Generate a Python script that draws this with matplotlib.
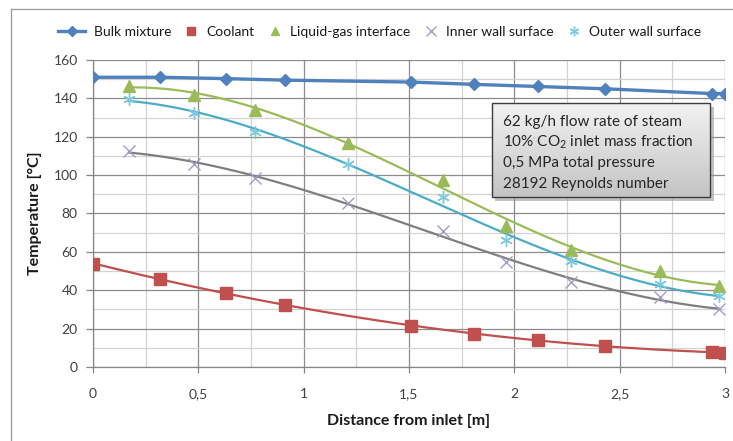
import numpy as np
import matplotlib
matplotlib.use("Agg")
import matplotlib.pyplot as plt
from matplotlib.lines import Line2D
from matplotlib.patches import Rectangle
from matplotlib.ticker import MultipleLocator, FuncFormatter
from matplotlib.legend_handler import HandlerLine2D

plt.rcParams['font.family'] = ['Lato', 'DejaVu Sans']
plt.rcParams['mathtext.fontset'] = 'custom'
plt.rcParams['mathtext.rm'] = 'Lato'
plt.rcParams['mathtext.it'] = 'Lato:italic'

# ---- data ----
x_bulk = [0.0, 0.32, 0.63, 0.91, 1.51, 1.81, 2.11, 2.43, 2.94, 3.0]
bulk = [151, 151, 150.3, 149.5, 148.5, 147.3, 146.2, 145, 142.5, 142.5]
coolant = [53.7, 46, 38.6, 32.5, 21.5, 17, 14, 11, 7.7, 7.5]

x_wall = [0.17, 0.48, 0.77, 1.21, 1.66, 1.96, 2.27, 2.69, 2.97]
interface = [146.5, 142, 134, 117, 97.5, 73.5, 61, 50, 42]
inner = [112.5, 106, 98.5, 85.5, 71, 54.5, 44.5, 36.5, 30]
outer = [139.5, 132.5, 122.5, 106, 88.5, 66, 55, 43, 37]

legend_labels = ["Bulk mixture", "Coolant", "Liquid-gas interface",
                 "Inner wall surface", "Outer wall surface"]
info_lines = ["62 kg/h flow rate of steam",
              "10% CO$_2$ inlet mass fraction",
              "0,5 MPa total pressure",
              "28192 Reynolds number"]
xlabel = "Distance from inlet [m]"
ylabel = "Temperature [°C]"

c_blue = '#4f81bd'
c_red = '#c0504d'
c_green = '#9bbb59'
c_gray = '#7f7f7f'
c_lav = '#a39cc6'
c_cyan = '#4bacc6'
c_cyan_m = '#7cc8dc'

fig = plt.figure(figsize=(7.33, 4.41), dpi=100)
ax = fig.add_axes([93/733, 1-367/441, 632/733, 307/441])

# trendlines (polynomial fits of the measured points)
def trend(xs, ys, deg, ls_color, lw=1.6):
    p = np.polyfit(xs, ys, deg)
    xx = np.linspace(min(xs), max(xs), 200)
    ax.plot(xx, np.polyval(p, xx), color=ls_color, lw=lw, zorder=3)

trend(x_bulk, coolant, 2, c_red)
trend(x_wall, interface, 3, c_green)
trend(x_wall, inner, 3, c_gray)
trend(x_wall, outer, 3, c_cyan)

ax.plot(x_bulk, bulk, color=c_blue, lw=2.4, marker='D', ms=6, zorder=5)
ax.plot(x_bulk, coolant, ls='none', marker='s', ms=8, color=c_red, zorder=5)
ax.plot(x_wall, interface, ls='none', marker='^', ms=8, color=c_green, zorder=5)
ax.plot(x_wall, inner, ls='none', marker='x', ms=8, mew=1.0, color=c_lav, zorder=5)
ax.plot(x_wall, outer, ls='none', marker=(6, 2, 0), ms=9, mew=1.0, color=c_cyan_m, zorder=5)

ax.set_xlim(0, 3)
ax.set_ylim(0, 160)
ax.xaxis.set_major_locator(MultipleLocator(0.5))
ax.xaxis.set_minor_locator(MultipleLocator(0.25))
ax.yaxis.set_major_locator(MultipleLocator(20))
ax.yaxis.set_minor_locator(MultipleLocator(10))
ax.xaxis.set_major_formatter(FuncFormatter(lambda v, p: ('%g' % v).replace('.', ',')))
ax.grid(which='major', color='#8c8c8c', lw=0.9, zorder=0)
ax.grid(which='minor', color='#d2d2d2', lw=0.9, zorder=0)
ax.set_axisbelow(True)
for s in ['top', 'right']:
    ax.spines[s].set_visible(False)
for s in ['left', 'bottom']:
    ax.spines[s].set_color('#868686')
    ax.spines[s].set_linewidth(0.9)
ax.tick_params(which='major', axis='y', length=5, width=0.9, color='#868686',
               labelsize=10, labelcolor='#404040', pad=6)
ax.tick_params(which='major', axis='x', length=4, width=0.9, color='#868686',
               labelsize=10, labelcolor='#404040', pad=11)
ax.tick_params(which='minor', length=0)

ax.set_xlabel(xlabel, fontsize=11.5, fontweight='bold', labelpad=10, color='#1a1a1a')
ax.set_ylabel(ylabel, fontsize=11.5, fontweight='bold', labelpad=8, color='#1a1a1a')

# info box with gradient
bx0, bx1, by0, by1 = 0.631, 0.977, 0.554, 0.860
shadow = Rectangle((bx0 + 0.005, by0 - 0.012), bx1 - bx0, by1 - by0,
                   transform=ax.transAxes, facecolor='#9a9a9a', edgecolor='none',
                   alpha=0.6, zorder=6)
ax.add_patch(shadow)
grad = np.linspace(0, 1, 100).reshape(-1, 1)
ax.imshow(grad, extent=(bx0, bx1, by0, by1), transform=ax.transAxes,
          cmap=matplotlib.colors.LinearSegmentedColormap.from_list('g', ['#f2f2f2', '#c4c4c4']),
          aspect='auto', zorder=7, origin='upper')
ax.add_patch(Rectangle((bx0, by0), bx1 - bx0, by1 - by0, transform=ax.transAxes,
                       facecolor='none', edgecolor='#3c3c3c', lw=1.0, zorder=8))
for i, t in enumerate(info_lines):
    ax.text(0.649, 0.798 - i * 0.0668, t, transform=ax.transAxes, fontsize=11,
            color='#262626', va='center', ha='left', zorder=9)
ax.set_xlim(0, 3)
ax.set_ylim(0, 160)


class LongLine(HandlerLine2D):
    def create_artists(self, legend, orig_handle, xdescent, ydescent, width,
                       height, fontsize, trans):
        return super().create_artists(legend, orig_handle, xdescent + width,
                                      ydescent, width * 2, height, fontsize, trans)


# legend
h_bulk = Line2D([], [], color=c_blue, lw=2.4, marker='D', ms=5)
handles = [
    h_bulk,
    Line2D([], [], ls='none', marker='s', ms=6, color=c_red),
    Line2D([], [], ls='none', marker='^', ms=6, color=c_green),
    Line2D([], [], ls='none', marker='x', ms=7, mew=1.0, color=c_lav),
    Line2D([], [], ls='none', marker=(6, 2, 0), ms=7, mew=1.0, color=c_cyan_m),
]
fig.legend(handles, legend_labels, loc='center', bbox_to_anchor=(0.527, 0.928),
           ncol=5, frameon=False, fontsize=10, handlelength=1.0, handletextpad=0.6,
           columnspacing=0.95, labelcolor='#1a1a1a',
           handler_map={h_bulk: LongLine()})

# outer chart border (left and top visible)
fig.add_artist(Line2D([11/733, 11/733], [0, 1-9/441], color='#a0a0a0', lw=1.0,
                      transform=fig.transFigure))
fig.add_artist(Line2D([11/733, 1], [1-9/441, 1-9/441], color='#a0a0a0', lw=1.0,
                      transform=fig.transFigure))

fig.savefig('out.png', dpi=100)
